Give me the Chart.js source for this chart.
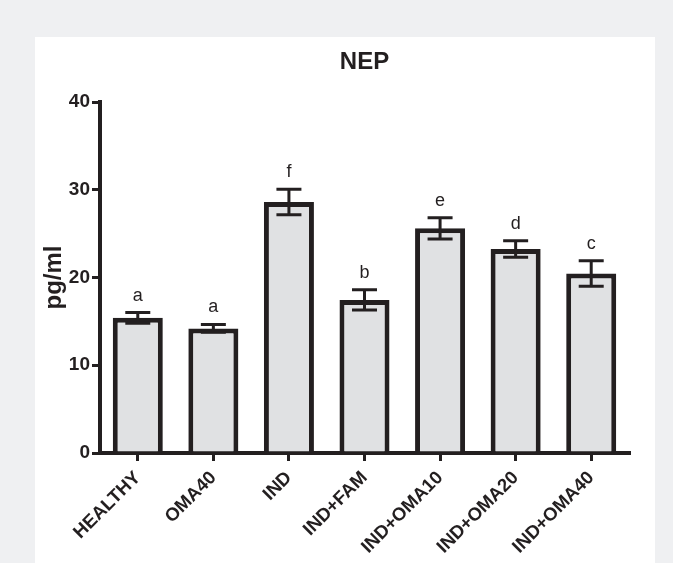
<!DOCTYPE html>
<html>
<head>
<meta charset="utf-8">
<script src="https://cdn.jsdelivr.net/npm/chart.js@4.4.1/dist/chart.umd.min.js"></script>
<style>
  html, body { margin: 0; padding: 0; width: 673px; height: 563px; overflow: hidden; background: #eff0f2; }
  #panel { position: absolute; left: 35px; top: 37px; width: 620px; height: 526px; background: #ffffff; }
  #c { position: absolute; left: 0; top: 0; }
</style>
</head>
<body>
<div id="panel"></div>
<canvas id="c" width="673" height="563"></canvas>
<script>
// NEP concentration (pg/ml) per treatment group, mean ± SEM
const groups = ['HEALTHY', 'OMA40', 'IND', 'IND+FAM', 'IND+OMA10', 'IND+OMA20', 'IND+OMA40'];
const nepMean = [15.4, 14.2, 28.6, 17.45, 25.6, 23.25, 20.45];
const nepSem = [0.6, 0.45, 1.45, 1.15, 1.2, 0.95, 1.45];
const sigLetters = ['a', 'a', 'f', 'b', 'e', 'd', 'c'];
const yTicks = [0, 10, 20, 30, 40];
const chartTitle = 'NEP';

const INK = '#231f20';
const FONT = '"Liberation Sans", Arial, sans-serif';

// error bars with caps, the significance letter above each bar,
// and the title centred over the plotting area
const errorBars = {
  id: 'errorBars',
  afterDatasetsDraw(chart) {
    const { ctx, chartArea, scales: { y } } = chart;
    const meta = chart.getDatasetMeta(0);
    ctx.save();
    ctx.strokeStyle = INK;
    ctx.lineWidth = 3;
    ctx.lineCap = 'butt';
    ctx.fillStyle = INK;
    ctx.font = '18px ' + FONT;
    ctx.textAlign = 'center';
    ctx.textBaseline = 'alphabetic';
    meta.data.forEach((bar, i) => {
      const cx = bar.x;
      const hi = y.getPixelForValue(nepMean[i] + nepSem[i]);
      const lo = y.getPixelForValue(nepMean[i] - nepSem[i]);
      const half = 12.5;
      ctx.beginPath();
      ctx.moveTo(cx, hi); ctx.lineTo(cx, lo);
      ctx.moveTo(cx - half, hi); ctx.lineTo(cx + half, hi);
      ctx.moveTo(cx - half, lo); ctx.lineTo(cx + half, lo);
      ctx.stroke();
      ctx.fillText(sigLetters[i], cx, hi - 12);
    });
    ctx.font = 'bold 24px ' + FONT;
    ctx.textBaseline = 'middle';
    ctx.fillText(chartTitle, (chartArea.left + chartArea.right) / 2, 62);
    ctx.restore();
  }
};

new Chart(document.getElementById('c'), {
  type: 'bar',
  data: {
    labels: groups,
    datasets: [{
      data: nepMean,
      backgroundColor: '#e0e1e3',
      borderColor: INK,
      borderWidth: 5,
      borderSkipped: 'start',
      categoryPercentage: 1,
      barPercentage: 0.662
    }]
  },
  options: {
    responsive: false,
    animation: false,
    layout: { padding: { left: 0, right: 44, top: 102, bottom: 0 } },
    plugins: {
      legend: { display: false },
      tooltip: { enabled: false },
      title: { display: false }
    },
    scales: {
      x: {
        offset: true,
        afterFit(scale) { scale.height = 110; },
        border: { display: true, color: INK, width: 4 },
        grid: { display: true, drawOnChartArea: false, drawTicks: true, tickLength: 8, color: INK, lineWidth: 3, offset: false },
        ticks: {
          color: INK,
          font: { family: FONT, size: 18.5, weight: 'bold' },
          minRotation: 45,
          maxRotation: 45,
          padding: 6,
          autoSkip: false
        }
      },
      y: {
        min: 0,
        max: 40,
        afterFit(scale) { scale.width = 100; },
        afterBuildTicks(scale) { scale.ticks = yTicks.map(v => ({ value: v })); },
        border: { display: true, color: INK, width: 4 },
        grid: { display: true, drawOnChartArea: false, drawTicks: true, tickLength: 8, color: INK, lineWidth: 3 },
        ticks: {
          color: INK,
          font: { family: FONT, size: 19, weight: 'bold' },
          padding: 2
        },
        title: {
          display: true,
          text: 'pg/ml',
          color: INK,
          font: { family: FONT, size: 24, weight: 'bold' },
          padding: { top: 40, bottom: 0 }
        }
      }
    }
  },
  plugins: [errorBars]
});
</script>
</body>
</html>
